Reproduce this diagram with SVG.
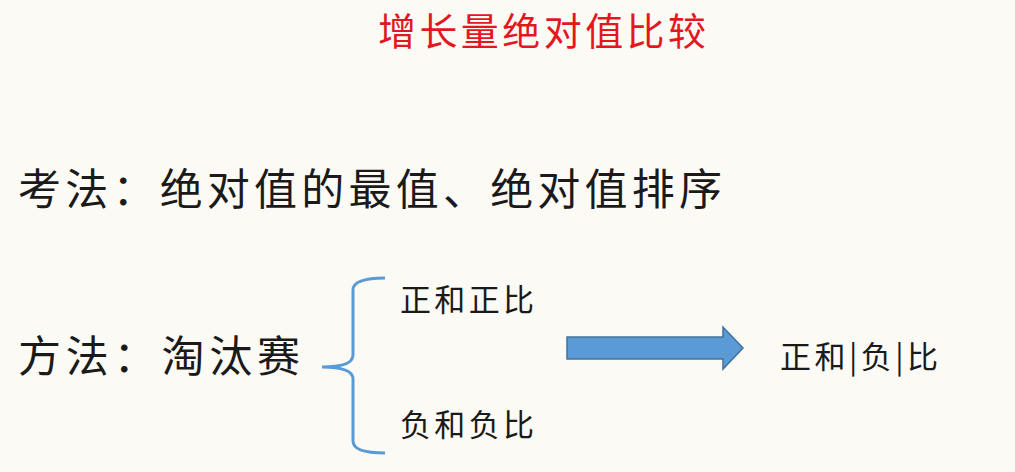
<svg xmlns="http://www.w3.org/2000/svg" width="1015" height="472" viewBox="0 0 1015 472">
<style>
.t{font-family:"Noto Sans CJK SC","Noto Sans",sans-serif;fill:#1a1a1a}
.big{font-size:43px}
.sm{font-size:31px}
</style>
<rect width="1015" height="472" fill="#fcfaf5"/>
<g id="title"><text x="378" y="45" font-family="'Noto Sans CJK SC',sans-serif" font-size="38" fill="#e3181f" textLength="328" lengthAdjust="spacing">增长量绝对值比较</text></g>
<g id="kaofa"><text class="t big" x="18" y="205" textLength="704" lengthAdjust="spacing">考法：绝对值的最值、绝对值排序</text></g>
<g id="fangfa"><text class="t big" x="18" y="372" textLength="282" lengthAdjust="spacing">方法：淘汰赛</text></g>
<g id="zheng"><text class="t sm" x="400" y="311" textLength="134" lengthAdjust="spacing">正和正比</text></g>
<g id="fu"><text class="t sm" x="400" y="436" textLength="134" lengthAdjust="spacing">负和负比</text></g>
<g id="result"><text class="t sm" x="780" y="368" textLength="158" lengthAdjust="spacing">正和|负|比</text></g>
<g id="connectors">
<path d="M385,278 Q353,278 353,290 L353,355 Q353,367 322,367 Q353,367 353,379 L353,441 Q353,453 385,453" fill="none" stroke="#5b9bd5" stroke-width="3"/>
<path d="M567,337 L723,337 L723,327 L743,348 L723,369 L723,359 L567,359 Z" fill="#5b9bd5" stroke="#41719c" stroke-width="1.5"/>
</g>
</svg>
